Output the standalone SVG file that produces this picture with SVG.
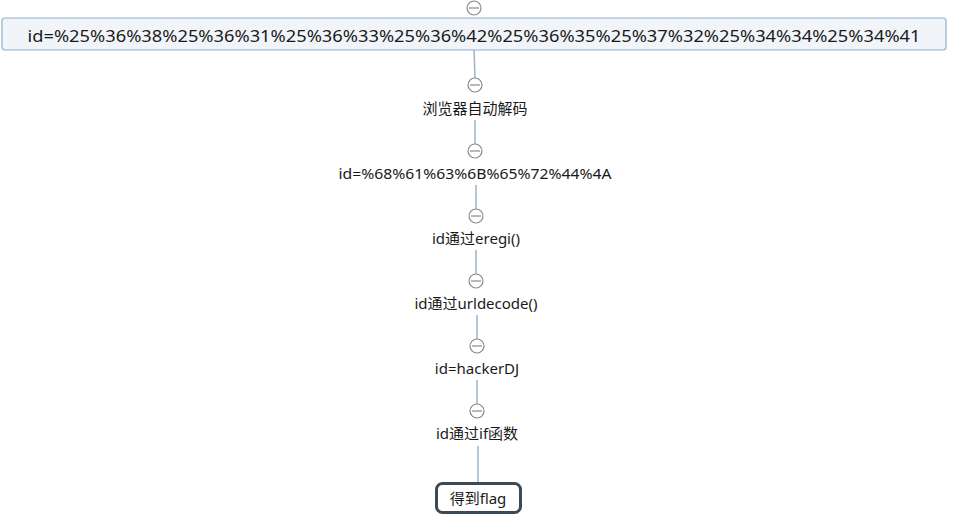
<svg xmlns="http://www.w3.org/2000/svg" width="968" height="528" viewBox="0 0 968 528">
<style>
text{font-family:"Noto Sans","Noto Sans CJK SC",sans-serif;fill:#1a1a1a;text-anchor:middle;dominant-baseline:central}
.lbl{font-size:15px}
.col circle{fill:#fff;stroke:#8a8a8a;stroke-width:1.2}
.col line{stroke:#8a8a8a;stroke-width:1.2}
#connectors line{stroke:#9ab4c8;stroke-width:1.5}
</style>
<rect width="968" height="528" fill="#fff"/>
<g id="connectors">
<line x1="474" y1="50" x2="475" y2="78"/>
<line x1="475" y1="120" x2="475" y2="144"/>
<line x1="476" y1="185" x2="476" y2="209"/>
<line x1="476" y1="250" x2="476" y2="274"/>
<line x1="477" y1="315" x2="477" y2="339"/>
<line x1="477" y1="380" x2="477" y2="404"/>
<line x1="478" y1="446" x2="478" y2="484"/>
</g>
<g id="n0">
<g class="col"><circle cx="474" cy="8" r="7"/><line x1="469" y1="8" x2="479" y2="8"/></g>
<rect x="2" y="18" width="944" height="32" rx="3" fill="#f1f5f9" stroke="#8fb0cc" stroke-width="1.2"/>
<text x="474" y="35" font-size="17" textLength="893" lengthAdjust="spacingAndGlyphs">id=%25%36%38%25%36%31%25%36%33%25%36%42%25%36%35%25%37%32%25%34%34%25%34%41</text>
</g>
<g id="n1">
<g class="col"><circle cx="475" cy="85" r="7"/><line x1="470" y1="85" x2="480" y2="85"/></g>
<text class="lbl" x="475" y="108">浏览器自动解码</text>
</g>
<g id="n2">
<g class="col"><circle cx="475" cy="151" r="7"/><line x1="470" y1="151" x2="480" y2="151"/></g>
<text class="lbl" x="475" y="173" textLength="273" lengthAdjust="spacingAndGlyphs">id=%68%61%63%6B%65%72%44%4A</text>
</g>
<g id="n3">
<g class="col"><circle cx="476" cy="216" r="7"/><line x1="471" y1="216" x2="481" y2="216"/></g>
<text class="lbl" x="476" y="238">id通过eregi()</text>
</g>
<g id="n4">
<g class="col"><circle cx="476" cy="281" r="7"/><line x1="471" y1="281" x2="481" y2="281"/></g>
<text class="lbl" x="476" y="303">id通过urldecode()</text>
</g>
<g id="n5">
<g class="col"><circle cx="477" cy="346" r="7"/><line x1="472" y1="346" x2="482" y2="346"/></g>
<text class="lbl" x="477" y="368">id=hackerDJ</text>
</g>
<g id="n6">
<g class="col"><circle cx="477" cy="411" r="7"/><line x1="472" y1="411" x2="482" y2="411"/></g>
<text class="lbl" x="477" y="433">id通过if函数</text>
</g>
<g id="n7">
<rect x="436.5" y="483.5" width="84" height="29" rx="6" fill="#fff" stroke="#3b4a56" stroke-width="3"/>
<text class="lbl" x="478" y="498">得到flag</text>
</g>
</svg>
